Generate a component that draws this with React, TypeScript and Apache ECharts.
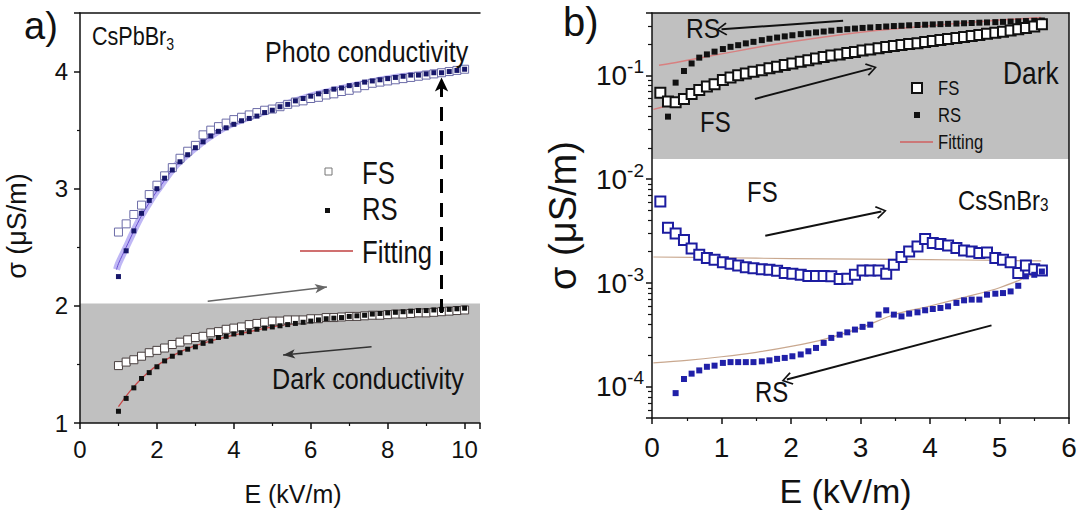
import React, { useEffect, useRef } from "react";
import * as echarts from "echarts";

// ---------- Panel a (CsPbBr3, linear) ----------
const A_X = [1.0,1.2,1.4,1.6,1.8,2.0,2.2,2.4,2.6,2.8,3.0,3.2,3.4,3.6,3.8,4.0,4.2,4.4,4.6,4.8,5.0,5.2,5.4,5.6,5.8,6.0,6.2,6.4,6.6,6.8,7.0,7.2,7.4,7.6,7.8,8.0,8.2,8.4,8.6,8.8,9.0,9.2,9.4,9.6,9.8,10.0];
const A_PHOTO_FS = [2.63,2.70,2.78,2.86,2.95,3.03,3.11,3.18,3.26,3.32,3.37,3.46,3.50,3.53,3.56,3.59,3.61,3.63,3.65,3.67,3.68,3.70,3.72,3.74,3.75,3.77,3.78,3.80,3.81,3.83,3.84,3.86,3.88,3.90,3.91,3.92,3.93,3.94,3.95,3.96,3.97,3.98,3.99,4.00,4.01,4.02];
const A_PHOTO_RS = [2.25,2.47,2.64,2.79,2.90,3.00,3.09,3.16,3.23,3.29,3.35,3.40,3.45,3.49,3.52,3.55,3.58,3.60,3.62,3.65,3.67,3.70,3.72,3.75,3.77,3.79,3.81,3.83,3.85,3.86,3.88,3.89,3.91,3.92,3.93,3.94,3.95,3.96,3.97,3.97,3.98,3.99,3.99,4.00,4.01,4.02];
const A_DARK_FS = [1.49,1.52,1.54,1.57,1.60,1.62,1.64,1.67,1.69,1.71,1.73,1.74,1.77,1.78,1.80,1.81,1.82,1.84,1.85,1.86,1.87,1.87,1.88,1.88,1.88,1.89,1.89,1.90,1.90,1.905,1.91,1.91,1.915,1.92,1.92,1.925,1.93,1.93,1.935,1.94,1.94,1.945,1.95,1.955,1.96,1.965];
const A_DARK_RS = [1.10,1.21,1.30,1.38,1.43,1.48,1.53,1.57,1.60,1.63,1.65,1.68,1.70,1.73,1.74,1.76,1.77,1.78,1.80,1.81,1.82,1.83,1.84,1.85,1.86,1.87,1.88,1.89,1.895,1.90,1.91,1.915,1.92,1.93,1.935,1.94,1.945,1.95,1.955,1.96,1.96,1.965,1.97,1.97,1.975,1.98];
const A_PHOTO_FIT_X = [0.95,1.0,1.2,1.4,1.6,1.8,2.0,2.5,3.0,3.5,4.0,5.0,6.0,7.0,8.0,9.0,10.0];
const A_PHOTO_FIT_Y = [2.31,2.36,2.50,2.64,2.77,2.88,2.98,3.20,3.35,3.47,3.56,3.68,3.79,3.87,3.94,3.98,4.02];
const A_DARK_FIT_X = [1.0,1.2,1.4,1.6,1.8,2.0,2.5,3.0,3.5,4.0,5.0,6.0,7.0,8.0,9.0,10.0];
const A_DARK_FIT_Y = [1.14,1.23,1.31,1.38,1.44,1.49,1.59,1.66,1.71,1.75,1.82,1.87,1.91,1.94,1.96,1.98];

// ---------- Panel b (CsSnBr3, log) ----------
const B_X = [0.12,0.23,0.34,0.46,0.57,0.68,0.79,0.90,1.02,1.13,1.24,1.35,1.46,1.58,1.69,1.80,1.91,2.02,2.14,2.25,2.36,2.47,2.58,2.70,2.81,2.92,3.03,3.14,3.26,3.37,3.48,3.59,3.70,3.82,3.93,4.04,4.15,4.26,4.38,4.49,4.60,4.71,4.82,4.94,5.05,5.16,5.27,5.38,5.50,5.61];
const B_DARK_FS = [0.068,0.056,0.055,0.059,0.066,0.072,0.078,0.082,0.090,0.095,0.100,0.104,0.108,0.112,0.117,0.121,0.126,0.130,0.135,0.140,0.145,0.150,0.155,0.159,0.164,0.168,0.173,0.177,0.182,0.187,0.192,0.196,0.200,0.204,0.209,0.214,0.219,0.224,0.229,0.234,0.239,0.245,0.251,0.257,0.263,0.270,0.278,0.286,0.295,0.310];
const B_DARK_RS = [null,0.040,0.085,0.110,0.130,0.148,0.159,0.169,0.179,0.188,0.195,0.203,0.210,0.218,0.225,0.231,0.237,0.243,0.249,0.254,0.259,0.264,0.269,0.274,0.278,0.282,0.286,0.289,0.292,0.295,0.298,0.300,0.303,0.305,0.307,0.309,0.311,0.313,0.315,0.317,0.319,0.321,0.323,0.325,0.327,0.329,0.331,0.333,0.335,0.337];
const B_LIGHT_FS = [6.1e-3,3.4e-3,3.0e-3,2.6e-3,2.15e-3,1.87e-3,1.74e-3,1.67e-3,1.58e-3,1.53e-3,1.47e-3,1.42e-3,1.39e-3,1.36e-3,1.34e-3,1.31e-3,1.25e-3,1.23e-3,1.20e-3,1.17e-3,1.17e-3,1.17e-3,1.16e-3,1.09e-3,1.10e-3,1.20e-3,1.32e-3,1.32e-3,1.32e-3,1.23e-3,1.50e-3,1.78e-3,2.01e-3,2.25e-3,2.65e-3,2.43e-3,2.37e-3,2.30e-3,2.17e-3,2.06e-3,2.01e-3,1.94e-3,1.97e-3,1.74e-3,1.67e-3,1.58e-3,1.25e-3,1.47e-3,1.36e-3,1.32e-3];
const B_LIGHT_RS = [null,null,8.7e-5,1.19e-4,1.34e-4,1.44e-4,1.56e-4,1.60e-4,1.70e-4,1.73e-4,1.73e-4,1.73e-4,1.73e-4,1.76e-4,1.80e-4,1.86e-4,1.90e-4,1.97e-4,2.05e-4,2.20e-4,2.37e-4,2.65e-4,2.96e-4,3.18e-4,3.35e-4,3.56e-4,3.78e-4,3.97e-4,4.96e-4,5.46e-4,4.96e-4,4.77e-4,5.07e-4,5.22e-4,5.46e-4,5.62e-4,5.75e-4,5.96e-4,6.43e-4,6.81e-4,6.92e-4,6.92e-4,7.72e-4,7.89e-4,8.0e-4,8.3e-4,9.4e-4,1.16e-3,1.20e-3,1.29e-3];
const B_DARK_RS_FIT_X = [0.1,0.4,0.8,1.2,1.6,2.0,2.5,3.0,3.5,4.0,4.5,5.0,5.6];
const B_DARK_RS_FIT_Y = [0.125,0.135,0.152,0.170,0.190,0.210,0.235,0.260,0.280,0.300,0.320,0.340,0.360];
const B_DARK_FS_FIT_X = [0.02,0.3,0.6,1.0,1.5,2.0,2.5,3.0,3.5,4.0,4.5,5.0,5.6];
const B_DARK_FS_FIT_Y = [0.047,0.053,0.064,0.086,0.107,0.128,0.150,0.171,0.192,0.212,0.234,0.262,0.310];
const B_LIGHT_FS_FIT_X = [0.02,1,2,3,4,5,5.6];
const B_LIGHT_FS_FIT_Y = [1.78e-3,1.75e-3,1.72e-3,1.70e-3,1.68e-3,1.65e-3,1.63e-3];
const B_LIGHT_RS_FIT_X = [0.02,0.5,1.0,1.5,2.0,2.5,3.0,3.5,4.0,4.5,5.0,5.6];
const B_LIGHT_RS_FIT_Y = [1.7e-4,1.8e-4,1.95e-4,2.15e-4,2.45e-4,2.9e-4,3.7e-4,5.0e-4,6.0e-4,7.3e-4,9.0e-4,1.3e-3];

const YB_MIN = Math.pow(10, -4.3);
const YB_MAX = Math.pow(10, -0.4);
const GRAY_B_BOTTOM = 0.0156;
const GRAY_A_TOP = 2.02;

const FR = "'Liberation Sans',Arial,sans-serif";
const BLK = "#111";
const CHEVRON = "path://M10,0 L20,17 L18,19 L10,5 L2,19 L0,17 Z";

function pts(xs: number[], ys: (number | null)[]) {
  const r: number[][] = [];
  for (let i = 0; i < xs.length; i++) if (ys[i] != null) r.push([xs[i], ys[i] as number]);
  return r;
}

function axisBase(fs: number, margin: number) {
  return {
    z: 3,
    axisLine: { show: true, onZero: false, lineStyle: { color: BLK, width: 1.5 } },
    axisTick: { show: true, inside: false, length: 6, lineStyle: { color: BLK, width: 1.5 } },
    minorTick: { show: true, splitNumber: 2, length: 3, lineStyle: { color: BLK, width: 1.2 } },
    splitLine: { show: false },
    minorSplitLine: { show: false },
    axisLabel: { color: BLK, fontSize: fs, fontFamily: FR, margin },
  };
}

function frameAxis(gridIndex: number, position: string, type: string, min: number, max: number) {
  return {
    gridIndex, position, type, min, max, z: 3,
    axisLine: { show: true, onZero: false, lineStyle: { color: BLK, width: 1.5 } },
    axisTick: { show: false }, axisLabel: { show: false }, splitLine: { show: false },
  };
}

// narrow-looking annotation text: Liberation Sans squeezed horizontally
function text(x: number, y: number, t: string, size: number, sx = 0.83) {
  return {
    type: "text", x, y, scaleX: sx, scaleY: 1, z: 20, silent: true,
    style: { text: t, fill: BLK, fontSize: size, fontFamily: FR, align: "left", verticalAlign: "middle" },
  };
}

function subText(x: number, y: number, main: string, sub: string, size: number, subSize: number, drop: number, sx = 0.83) {
  return {
    type: "text", x, y, scaleX: sx, scaleY: 1, z: 20, silent: true,
    style: {
      text: `{m|${main}}{s|${sub}}`, fill: BLK, align: "left", verticalAlign: "middle",
      rich: {
        m: { fontSize: size, fontFamily: FR, fill: BLK, lineHeight: size },
        s: { fontSize: subSize, fontFamily: FR, fill: BLK, padding: [drop, 0, 0, 0], lineHeight: subSize },
      },
    },
  };
}

function buildOption() {
  const lineS = (name: string, xs: number[], ys: number[], color: string, width: number, xi: number, yi: number, extra: any = {}) => ({
    type: "line", name, xAxisIndex: xi, yAxisIndex: yi, data: pts(xs, ys), showSymbol: false, symbol: "none",
    smooth: 0.3, silent: true, lineStyle: { color, width }, z: 2, ...extra,
  });
  const scat = (name: string, xs: number[], ys: (number | null)[], size: number, fill: string, stroke: string, bw: number, xi: number, yi: number, z = 3) => ({
    type: "scatter", name, xAxisIndex: xi, yAxisIndex: yi, data: pts(xs, ys), symbol: "rect", symbolSize: size,
    itemStyle: { color: fill, borderColor: stroke, borderWidth: bw, opacity: 1 }, silent: true, z,
  });

  const arrowA = (x1: number, y1: number, x2: number, y2: number, color: string, width: number, type: any, size: number[]) => [
    { coord: [x1, y1], symbol: "none", lineStyle: { color, width, type } },
    { coord: [x2, y2], symbol: "arrow", symbolSize: size },
  ];
  const arrowB = (x1: number, y1: number, x2: number, y2: number) => [
    { coord: [x1, y1], symbol: "none", lineStyle: { color: BLK, width: 2, type: "solid" } },
    { coord: [x2, y2], symbol: CHEVRON, symbolSize: [13, 11] },
  ];

  return {
    animation: false,
    backgroundColor: "#fff",
    grid: [
      { left: 80, top: 13, width: 400, height: 410, containLabel: false, outerBoundsMode: "none" },
      { left: 652, top: 13, width: 417, height: 405, containLabel: false, outerBoundsMode: "none" },
    ],
    xAxis: [
      {
        gridIndex: 0, type: "value", min: 0, max: 10.4, interval: 2, ...axisBase(24, 14),
        axisLabel: { color: BLK, fontSize: 24, fontFamily: FR, margin: 14, showMaxLabel: false },
        name: "E (kV/m)", nameLocation: "middle", nameGap: 58,
        nameTextStyle: { fontSize: 25, fontFamily: FR, color: BLK, padding: [0, 0, 0, 26] },
      },
      frameAxis(0, "top", "value", 0, 10.4),
      {
        gridIndex: 1, type: "value", min: 0, max: 6, interval: 1, ...axisBase(28, 15),
        name: "E (kV/m)", nameLocation: "middle", nameGap: 56,
        nameTextStyle: { fontSize: 34, fontFamily: FR, color: BLK, padding: [0, 30, 0, 0] },
      },
      frameAxis(1, "top", "value", 0, 6),
    ],
    yAxis: [
      {
        gridIndex: 0, type: "value", min: 1, max: 4.5, interval: 1, ...axisBase(24, 12),
        axisLabel: { color: BLK, fontSize: 24, fontFamily: FR, margin: 12, showMaxLabel: false },
        name: "σ (μS/m)", nameLocation: "middle", nameGap: 50,
        nameTextStyle: { fontSize: 27, fontFamily: FR, color: BLK, padding: [0, 16, 0, 0] },
      },
      {
        gridIndex: 1, type: "log", logBase: 10, min: YB_MIN, max: YB_MAX, ...axisBase(28, 8),
        minorTick: { show: true, splitNumber: 9, length: 4, lineStyle: { color: BLK, width: 1.2 } },
        axisLabel: {
          color: BLK, margin: 8, showMinLabel: false, showMaxLabel: false,
          formatter: (v: number) => `{b|10}{s|${Math.round(Math.log10(v))}}`,
          rich: {
            b: { fontSize: 28, fontFamily: FR, color: BLK, lineHeight: 30 },
            s: { fontSize: 19, fontFamily: FR, color: BLK, padding: [0, 0, 18, 0], lineHeight: 19 },
          },
        },
        name: "σ (μS/m)", nameLocation: "middle", nameGap: 70,
        nameTextStyle: { fontSize: 38, fontFamily: FR, color: BLK },
      },
      frameAxis(1, "right", "log", YB_MIN, YB_MAX),
    ],
    series: [
      // ---- panel a ----
      lineS("Fitting", A_DARK_FIT_X, A_DARK_FIT_Y, "#c84848", 1.3, 0, 0, {
        markArea: {
          silent: true, z: 1,
          itemStyle: { color: "#c0c0c0" },
          data: [[{ yAxis: 1 }, { yAxis: GRAY_A_TOP }]],
        },
        markLine: {
          silent: true, z: 6, animation: false, label: { show: false }, symbol: ["none", "arrow"],
          data: [
            arrowA(3.32, 2.04, 6.42, 2.16, "#666", 1.5, "solid", [7, 12]),
            arrowA(7.58, 1.65, 5.28, 1.58, "#333", 1.5, "solid", [7, 12]),
            arrowA(9.4, 1.94, 9.4, 3.95, "#000", 3, [14, 10], [10, 14]),
          ],
        },
      }),
      lineS("Glow", A_PHOTO_FIT_X, A_PHOTO_FIT_Y, "rgba(128,112,236,0.5)", 7, 0, 0),
      lineS("Fitting", A_PHOTO_FIT_X, A_PHOTO_FIT_Y, "#6a4fd0", 1, 0, 0),
      scat("FS", A_X, A_PHOTO_FS, 8, "#fff", "#6c6ca8", 1, 0, 0),
      scat("RS", A_X, A_PHOTO_RS, 5, "#17176a", "#17176a", 0, 0, 0, 4),
      scat("FS", A_X, A_DARK_FS, 8, "#fff", "#4a4040", 1, 0, 0),
      scat("RS", A_X, A_DARK_RS, 5, "#111", "#111", 0, 0, 0, 4),
      // ---- panel b ----
      lineS("Fitting", B_DARK_RS_FIT_X, B_DARK_RS_FIT_Y, "#d88080", 1.5, 2, 1, {
        markArea: {
          silent: true, z: 1,
          itemStyle: { color: "#c0c0c0" },
          data: [[{ yAxis: GRAY_B_BOTTOM }, { yAxis: YB_MAX }]],
        },
        markLine: {
          silent: true, z: 6, animation: false, label: { show: false }, symbol: ["none", "arrow"],
          data: [
            arrowB(2.75, 0.335, 1.0, 0.277),
            arrowB(1.48, 0.0592, 3.16, 0.1167),
            arrowB(1.63, 2.85e-3, 3.30, 4.88e-3),
            arrowB(4.885, 3.91e-4, 1.94, 1.175e-4),
          ],
        },
      }),
      lineS("Fitting", B_DARK_FS_FIT_X, B_DARK_FS_FIT_Y, "#d88080", 1.5, 2, 1),
      lineS("Fitting", B_LIGHT_FS_FIT_X, B_LIGHT_FS_FIT_Y, "#c9a88f", 1.2, 2, 1),
      lineS("Fitting", B_LIGHT_RS_FIT_X, B_LIGHT_RS_FIT_Y, "#c9a88f", 1.2, 2, 1),
      scat("RS", B_X, B_DARK_RS, 6, "#111", "#111", 0, 2, 1),
      scat("FS", B_X, B_DARK_FS, 10, "#fff", "#111", 2, 2, 1),
      scat("FS", B_X, B_LIGHT_FS, 10, "#fff", "#1c1ca0", 2, 2, 1),
      scat("RS", B_X, B_LIGHT_RS, 6, "#2020a8", "#2020a8", 0, 2, 1),
    ],
    graphic: [
      // panel a labels
      text(24, 26, "a)", 38, 1),
      subText(92, 36, "CsPbBr", "3", 26, 17, 16),
      text(265, 52, "Photo conductivity", 30, 0.835),
      text(272, 379, "Dark conductivity", 30, 0.84),
      // panel a legend
      { type: "rect", z: 20, silent: true, shape: { x: 325, y: 168, width: 7, height: 7 }, style: { fill: "#fff", stroke: "#777", lineWidth: 1 } },
      text(362, 173, "FS", 31),
      { type: "rect", z: 20, silent: true, shape: { x: 325, y: 208, width: 5, height: 5 }, style: { fill: "#111" } },
      text(362, 209, "RS", 31),
      { type: "line", z: 20, silent: true, shape: { x1: 300, y1: 251, x2: 353, y2: 251 }, style: { stroke: "#d07070", lineWidth: 2 } },
      text(362, 252, "Fitting", 31),
      // panel b labels
      text(563, 22, "b)", 40, 1),
      text(686, 28, "RS", 28, 0.88),
      text(700, 122, "FS", 30, 0.8),
      text(1003, 73, "Dark", 31, 0.85),
      text(747, 192, "FS", 30, 0.8),
      subText(958, 200, "CsSnBr", "3", 28, 18, 10, 0.85),
      text(755, 392, "RS", 30, 0.8),
      // panel b legend
      { type: "rect", z: 20, silent: true, shape: { x: 912, y: 83, width: 10, height: 10 }, style: { fill: "#fff", stroke: "#111", lineWidth: 2 } },
      text(938, 88, "FS", 20),
      { type: "rect", z: 20, silent: true, shape: { x: 914, y: 112, width: 6, height: 6 }, style: { fill: "#111" } },
      text(938, 115, "RS", 20),
      { type: "line", z: 20, silent: true, shape: { x1: 900, y1: 142, x2: 933, y2: 142 }, style: { stroke: "#d06060", lineWidth: 1.5 } },
      text(938, 142, "Fitting", 20),
    ],
  };
}

export default function App() {
  const ref = useRef<HTMLDivElement>(null);
  useEffect(() => {
    if (!ref.current) return;
    const chart = echarts.init(ref.current, undefined, { renderer: "svg", width: 1089, height: 513 });
    chart.setOption(buildOption() as any);
    return () => chart.dispose();
  }, []);
  return (
    <div
      ref={ref}
      style={{ position: "fixed", left: 0, top: 0, width: 1089, height: 513, background: "#fff" }}
    />
  );
}
